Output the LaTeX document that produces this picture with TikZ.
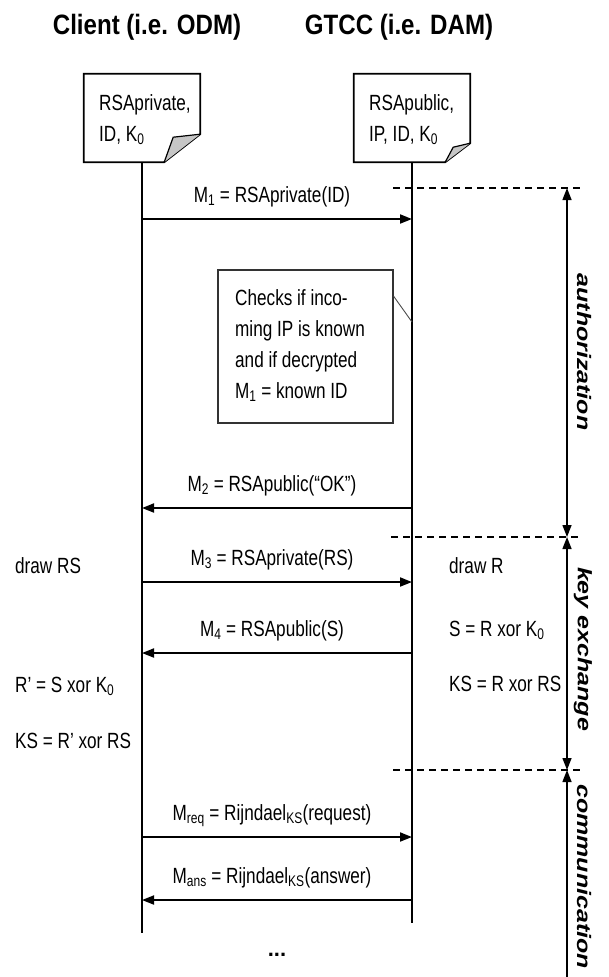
\documentclass[tikz,border=0pt]{standalone}
\usepackage{fontspec}
\setmainfont{Liberation Sans}
\usepackage{graphicx}
\usetikzlibrary{arrows.meta,calc}

% the drawing is squeezed sideways, so is the text
\newcommand{\narrow}[1]{\scalebox{0.78}[1]{#1}}
\newcommand{\squat}[1]{\scalebox{1}[0.78]{#1}}

\begin{document}
\begin{tikzpicture}[x=1pt,y=-1pt,>={Triangle[length=12pt,width=9pt]},
  txt/.style={font=\fontsize{22}{31}\selectfont,inner sep=0pt},
  msg/.style={txt,anchor=base,yshift=17pt,xshift=-5pt},
  side/.style={txt,anchor=base west},
  headline/.style={font=\fontsize{28}{32}\selectfont\bfseries,inner sep=0pt,anchor=base},
  phase/.style={font=\fontsize{25}{30}\selectfont\bfseries\itshape,inner sep=0pt,rotate=-90},
  lifeline/.style={line width=2.4pt},
  msgarrow/.style={line width=1.8pt,->},
  notebox/.style={line width=1.8pt,line join=miter},
  flap/.style={line width=1.2pt,fill=gray!45},
  phasesep/.style={line width=1.8pt,dash pattern=on 7pt off 5pt},
  phasearrow/.style={line width=1.4pt}]
\useasboundingbox (0,0) rectangle (608,977);
\fill[white] (0,0) rectangle (608,977);

% headers
\node[headline] (client) at (147,34) {\scalebox{0.86}[1]{Client (i.e. ODM)}};
\node[headline] (gtcc) at (399,34) {\scalebox{0.86}[1]{GTCC (i.e. DAM)}};

% notes with folded corner
\node[minimum width=116pt,minimum height=88pt,inner sep=0pt] (cnote) at (142,118) {};
\node[minimum width=116pt,minimum height=88pt,inner sep=0pt] (gnote) at (412,118) {};
\draw[notebox] (cnote.north west) -- (cnote.north east) -- ([yshift=28pt]cnote.south east)
  -- ([xshift=-36pt]cnote.south east) -- (cnote.south west) -- cycle;
\filldraw[flap] ([xshift=-36pt]cnote.south east) -- ([xshift=-27pt,yshift=25pt]cnote.south east)
  -- ([yshift=28pt]cnote.south east);
\draw[notebox] (gnote.north west) -- (gnote.north east) -- ([yshift=19pt]gnote.south east)
  -- ([xshift=-25pt]gnote.south east) -- (gnote.south west) -- cycle;
\filldraw[flap] ([xshift=-25pt]gnote.south east) -- ([xshift=-17pt,yshift=15pt]gnote.south east)
  -- ([yshift=19pt]gnote.south east);
\node[side] (ctext) at (99,110) {\narrow{\begin{tabular}[t]{@{}l@{}}RSAprivate,\\ID, K\textsubscript{0}\end{tabular}}};
\node[side] (gtext) at (369,110) {\narrow{\begin{tabular}[t]{@{}l@{}}RSApublic,\\IP, ID, K\textsubscript{0}\end{tabular}}};

% lifelines
\coordinate (cend) at (142,933);
\coordinate (gend) at (412,923);
\draw[lifeline] (cnote.south) -- (cend);
\draw[lifeline] (gnote.south) -- (gend);

\foreach \n/\y in {1/219,2/508,3/582,4/653,req/837,ans/900}{
  \coordinate (c\n) at (142,\y);
  \coordinate (g\n) at (412,\y);
}

% messages
\draw[msgarrow] (c1) -- node[msg]{\narrow{M\textsubscript{1} = RSAprivate(ID)}} (g1);
\draw[msgarrow] (g2) -- node[msg]{\narrow{M\textsubscript{2} = RSApublic(\textquotedblleft OK\textquotedblright)}} (c2);
\draw[msgarrow] (c3) -- node[msg]{\narrow{M\textsubscript{3} = RSAprivate(RS)}} (g3);
\draw[msgarrow] (g4) -- node[msg]{\narrow{M\textsubscript{4} = RSApublic(S)}} (c4);
\draw[msgarrow] (creq) -- node[msg]{\narrow{M\textsubscript{req} = Rijndael\textsubscript{KS}(request)}} (greq);
\draw[msgarrow] (gans) -- node[msg]{\narrow{M\textsubscript{ans} = Rijndael\textsubscript{KS}(answer)}} (cans);

% check on the GTCC side
\node[draw=black!80,line width=1.4pt,minimum width=175pt,minimum height=153pt,inner sep=0pt] (chk) at (305.5,346.5) {};
\node[side] (chktext) at (235,305) {\narrow{\begin{tabular}[t]{@{}l@{}}Checks if inco-\\ming IP is known\\and if decrypted\\M\textsubscript{1} = known ID\end{tabular}}};
\coordinate (chkc) at ($(chk.north east)+(0,27)$);
\coordinate (gchk) at (412,322);
\draw[line width=0.9pt,black!70] (chkc) -- (gchk);

% local computations
\node[side] (drawrs) at (15,573) {\narrow{draw RS}};
\node[side] (drawr) at (449,573) {\narrow{draw R}};
\node[side] (sval) at (449,636) {\narrow{S = R xor K\textsubscript{0}}};
\node[side] (rval) at (15,692) {\narrow{R' = S xor K\textsubscript{0}}};
\node[side] (ksg) at (449,691) {\narrow{KS = R xor RS}};
\node[side] (ksc) at (15,748) {\narrow{KS = R' xor RS}};
\node[txt,font=\fontsize{22}{31}\selectfont\bfseries] (dots) at (277,955) {...};

% phases
\coordinate (p1) at (567,188);
\coordinate (p2) at (567,537);
\coordinate (p3) at (567,770);
\coordinate (p4) at (567,990);
\coordinate (d1) at (393,188);
\coordinate (d2) at (391,537);
\coordinate (d3) at (393,770);
\draw[phasesep] (d1) -- ([xshift=13pt]p1);
\draw[phasesep] (d2) -- ([xshift=13pt]p2);
\draw[phasesep] (d3) -- ([xshift=13pt]p3);
\draw[phasearrow,<->] (p1) -- (p2);
\draw[phasearrow,<->] (p2) -- (p3);
\draw[phasearrow,<-] (p3) -- (p4);
\node[phase] (auth) at (584,352) {\squat{authorization}};
\node[phase] (kex) at (583,649) {\squat{key exchange}};
\node[phase,anchor=west] (comm) at (584,784) {\squat{communication}};
\end{tikzpicture}
\end{document}
